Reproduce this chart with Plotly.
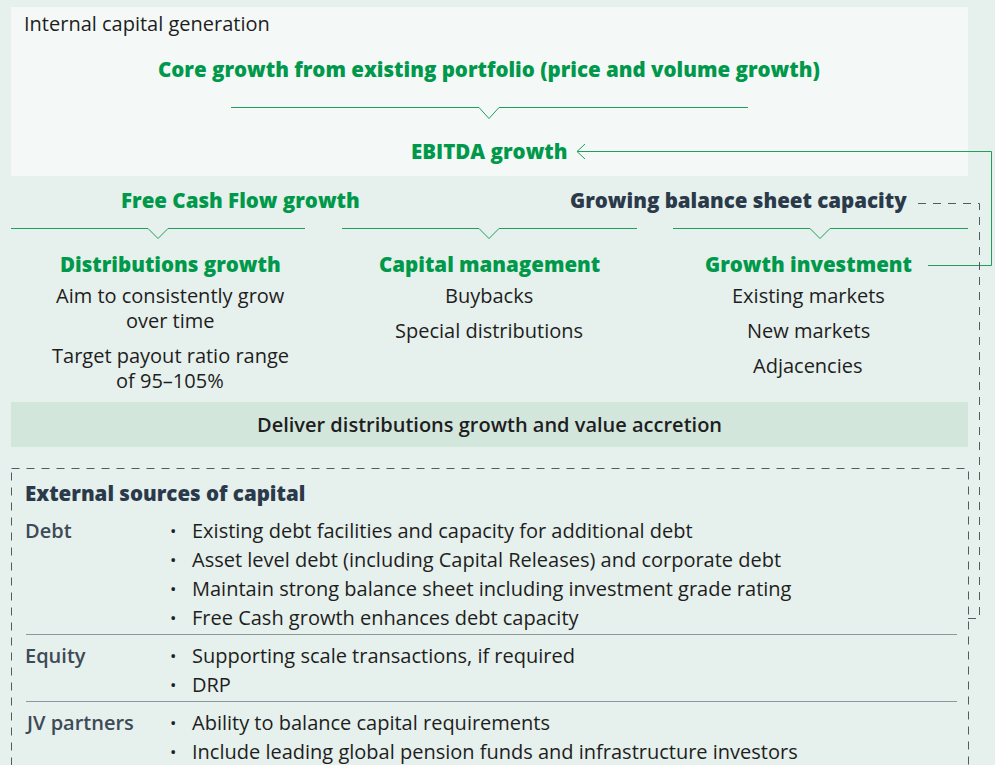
import plotly.graph_objects as go

# Texts of the diagram
title_internal = "Internal capital generation"
core_growth = "Core growth from existing portfolio (price and volume growth)"
ebitda = "EBITDA growth"
fcf = "Free Cash Flow growth"
balance = "Growing balance sheet capacity"
col_heads = ["Distributions growth", "Capital management", "Growth investment"]
col_lines = [
    [["Aim to consistently grow", "over time"], ["Target payout ratio range", "of 95–105%"]],
    [["Buybacks"], ["Special distributions"]],
    [["Existing markets"], ["New markets"], ["Adjacencies"]],
]
deliver = "Deliver distributions growth and value accretion"
external_title = "External sources of capital"
source_labels = ["Debt", "Equity", "JV partners"]
source_bullets = [
    ["Existing debt facilities and capacity for additional debt",
     "Asset level debt (including Capital Releases) and corporate debt",
     "Maintain strong balance sheet including investment grade rating",
     "Free Cash growth enhances debt capacity"],
    ["Supporting scale transactions, if required",
     "DRP"],
    ["Ability to balance capital requirements",
     "Include leading global pension funds and infrastructure investors"],
]

# Styles / layout
W, H = 995, 765
BG = "#e6f0ec"
BOX = "#f4f9f7"
BAND = "#d2e6dc"
GREEN = "#00984a"
LINE_GREEN = "#1f9f5c"
NAVY = "#2b3a4a"
LABEL = "#3d4a57"
TEXT = "#1e1e1e"
DASH = "#4f5b66"
FONT = "Open Sans"
HW = 800   # heading weight
HS = 20.5  # heading size

L, R = 11, 968
col_x = [170, 489, 808]

fig = go.Figure()
shapes = []
ann = []


def text(x, y, s, size=20, color=TEXT, weight=400, xanchor="center"):
    ann.append(dict(
        x=x, y=y, text=s, showarrow=False,
        xanchor=xanchor, yanchor="middle",
        font=dict(family=FONT, size=size, color=color, weight=weight),
    ))


def chevron(x0, x1, xc, y, depth=10, half=10):
    y = y + 0.5
    shapes.append(dict(
        type="path",
        path=f"M {x0},{y} L {xc-half},{y} L {xc},{y+depth} L {xc+half},{y} L {x1},{y}",
        line=dict(color=LINE_GREEN, width=1),
    ))


# top box
shapes.append(dict(type="rect", x0=L, x1=R, y0=7, y1=176,
                   fillcolor=BOX, line=dict(width=0), layer="below"))
text(22, 23, title_internal, size=20, xanchor="left")
text(489, 69, core_growth, size=HS, color=GREEN, weight=HW)
chevron(231, 748, 489, 107, depth=11)
text(489, 151, ebitda, size=HS, color=GREEN, weight=HW)

# feedback arrow from growth investment to EBITDA growth
shapes.append(dict(type="path",
                   path="M 928,265.5 L 991.5,265.5 L 991.5,151.5 L 577,151.5",
                   line=dict(color=LINE_GREEN, width=1)))
shapes.append(dict(type="path", path="M 585,144 L 577,151.5 L 585,159",
                   line=dict(color=LINE_GREEN, width=1)))

text(240, 200, fcf, size=HS, color=GREEN, weight=HW)
text(738, 200, balance, size=HS, color=NAVY, weight=HW)
shapes.append(dict(type="path",
                   path="M 918,203.5 L 979.5,203.5 L 979.5,618.5 L 967,618.5",
                   line=dict(color=DASH, width=1, dash="8px,7px")))

chevron(L, 305, 158, 228)
chevron(342, 637, 489, 228)
chevron(673, R, 820, 228)

for cx, head, groups in zip(col_x, col_heads, col_lines):
    text(cx, 264, head, size=HS, color=GREEN, weight=HW)
    y = 295
    for grp in groups:
        for s in grp:
            text(cx, y, s, size=20)
            y += 25
        y += 10

# deliver band
shapes.append(dict(type="rect", x0=L, x1=R, y0=402, y1=447,
                   fillcolor=BAND, line=dict(width=0), layer="below"))
text(489, 424, deliver, size=20, color=TEXT, weight=600)

# external sources box
shapes.append(dict(type="rect", x0=L + 0.5, x1=R + 0.5, y0=468.5, y1=H + 20,
                   line=dict(color=DASH, width=1, dash="8px,7px")))
text(23, 493, external_title, size=HS, color=NAVY, weight=HW, xanchor="left")

row_y = 530
step = 29
seps = []
for i, (lab, bullets) in enumerate(zip(source_labels, source_bullets)):
    text(23, row_y, lab, size=20, color=LABEL, weight=600, xanchor="left")
    for b in bullets:
        text(173, row_y, "•", size=17, color=TEXT)
        text(190, row_y, b, size=20, xanchor="left")
        row_y += step
    if i < len(source_labels) - 1:
        seps.append(row_y - 12)
        row_y += 9
for sy in seps:
    shapes.append(dict(type="line", x0=26, x1=957, y0=sy + 0.5, y1=sy + 0.5,
                       line=dict(color="#8e969d", width=1)))

fig.update_layout(
    width=W, height=H,
    margin=dict(l=0, r=0, t=0, b=0),
    paper_bgcolor=BG, plot_bgcolor=BG,
    xaxis=dict(range=[0, W], visible=False, fixedrange=True),
    yaxis=dict(range=[H, 0], visible=False, fixedrange=True),
    shapes=shapes, annotations=ann, showlegend=False,
)

fig.write_html("out.html", config={"displayModeBar": False},
               post_script="document.body.style.margin='0';document.body.style.overflow='hidden';")
